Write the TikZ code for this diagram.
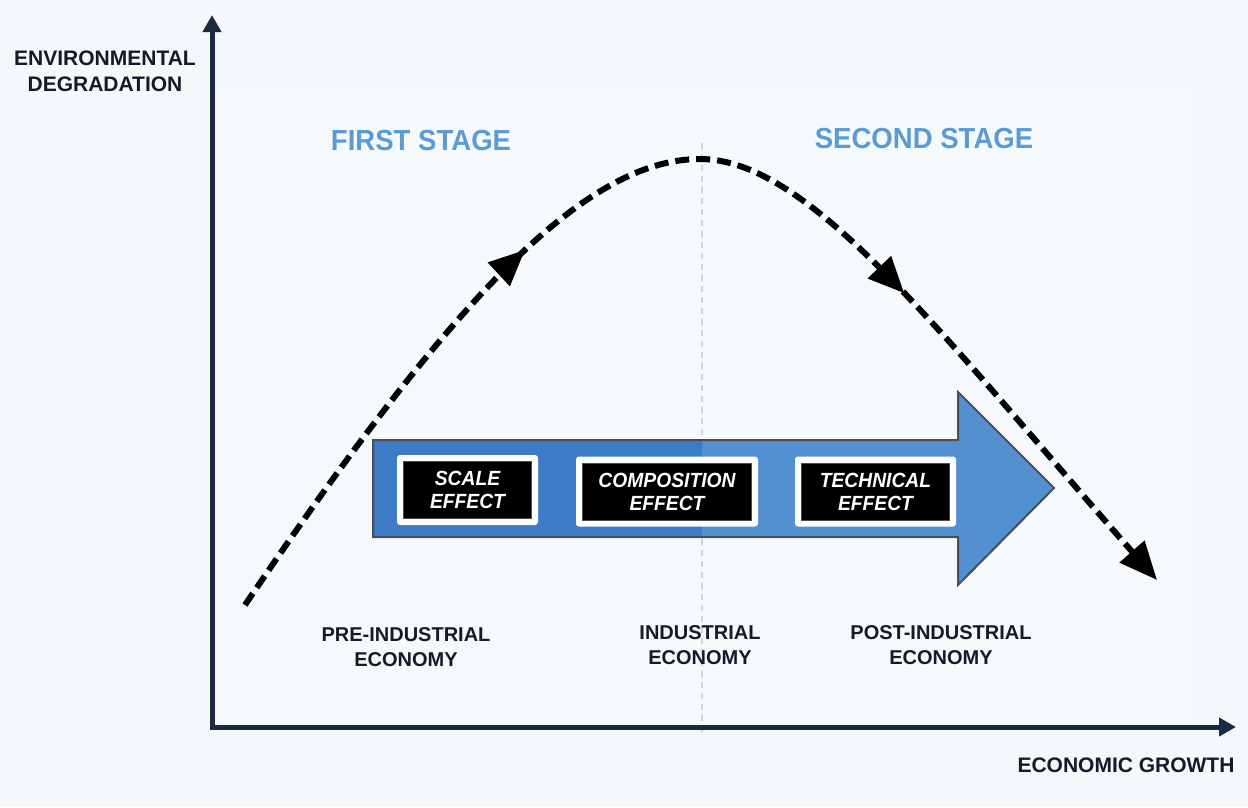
\documentclass[tikz,border=0pt]{standalone}
\usepackage{fontspec}
\setmainfont{Liberation Sans}
\newfontfamily\stagefont[FakeStretch=0.95]{Liberation Sans}
\newfontfamily\boxfont[FakeStretch=0.94]{Liberation Sans}
\usetikzlibrary{arrows.meta,decorations.markings}
\definecolor{bgc}{HTML}{F4F8FA}
\definecolor{plotbg}{HTML}{F6F9FB}
\definecolor{axisc}{HTML}{1B2A41}
\definecolor{labc}{HTML}{131B2B}
\definecolor{stagec}{HTML}{5B9BD5}
\definecolor{arrowL}{HTML}{3E7BC6}
\definecolor{arrowR}{HTML}{5390D1}
\definecolor{arrowE}{HTML}{4A4F57}
\definecolor{guide}{HTML}{CFD3D6}
\tikzset{
  axisline/.style={line width=5pt, draw=axisc, -{Triangle[length=17pt,width=18pt]}},
  axislab/.style={font=\bfseries\fontsize{21}{26}\selectfont, text=labc, align=center, inner sep=0pt},
  ecolab/.style={font=\bfseries\fontsize{20}{25}\selectfont, text=labc, align=center, inner sep=0pt},
  stagelab/.style={font=\stagefont\bfseries\fontsize{29}{32}\selectfont, text=stagec, inner sep=0pt},
  whitebox/.style={fill=white, rounded corners=3pt, inner sep=0pt},
  blackbox/.style={fill=black, draw=black!70, line width=0.6pt, inner sep=0pt, minimum height=57pt,
    font=\boxfont\bfseries\itshape\fontsize{20.5}{23}\selectfont, text=white, align=center},
  curveline/.style={line width=6pt, draw=black, dash pattern=on 14pt off 7pt,
    -{Triangle[length=38pt,width=32pt]}},
  midarrow/.style={decoration={markings,
    mark=at position 0.352 with {\arrow{Triangle[length=36pt,width=31pt]}},
    mark=at position 0.703 with {\arrow{Triangle[length=36pt,width=31pt]}}}, decorate}
}
\begin{document}
\begin{tikzpicture}[x=1pt,y=-1pt]
\useasboundingbox (0,0) rectangle (1248,807);
\fill[bgc] (0,0) rectangle (1248,807);
\fill[plotbg] (215,88) rectangle (1196,725);

% guide line
\coordinate (gtop) at (702,143);
\coordinate (gbot) at (702,734);
\draw[guide, line width=1.2pt, dash pattern=on 6pt off 5pt] (gtop) -- (gbot);

% axes
\coordinate (ytip) at (212,15);
\coordinate (xtip) at (1236,727);
\coordinate (ostart) at (212,729.5);
\coordinate (xstart) at (209.5,727);
\draw[axisline] (ostart) -- (ytip);
\draw[axisline] (xstart) -- (xtip);

% big arrow
\path[fill=arrowR] (373,440) -- (958,440) -- (958,392) -- (1054,488) -- (958,585) -- (958,537) -- (373,537) -- cycle;
\begin{scope}
\clip (373,380) rectangle (702,600);
\path[fill=arrowL] (373,440) -- (958,440) -- (958,392) -- (1054,488) -- (958,585) -- (958,537) -- (373,537) -- cycle;
\end{scope}
\draw[arrowE, line width=2pt, line join=miter] (373,440) -- (958,440) -- (958,392) -- (1054,488) -- (958,585) -- (958,537) -- (373,537) -- cycle;

% effect boxes
\node[whitebox, minimum width=141pt, minimum height=70pt] (w1) at (467.5,490) {};
\node[blackbox, minimum width=128pt] (b1) at (w1.center) {SCALE\\EFFECT};
\node[whitebox, minimum width=182pt, minimum height=70pt] (w2) at (667,491.5) {};
\node[blackbox, minimum width=169pt] (b2) at (w2.center) {COMPOSITION\\EFFECT};
\node[whitebox, minimum width=161pt, minimum height=70pt] (w3) at (875.5,491.5) {};
\node[blackbox, minimum width=148pt] (b3) at (w3.center) {TECHNICAL\\EFFECT};

% curve
\coordinate (cs) at (245,605);
\coordinate (cp) at (700,159);
\coordinate (ce) at (1157,580);
\draw[curveline, postaction={midarrow}] (cs) .. controls (447,306) and (583,159) .. (cp)
  .. controls (810,159) and (939,332) .. (ce);

% labels
\node[axislab] (ylab) at (105,71) {ENVIRONMENTAL\\DEGRADATION};
\node[axislab] (xlab) at (1126,765) {ECONOMIC GROWTH};
\node[stagelab] (s1) at (421,141) {FIRST STAGE};
\node[stagelab] (s2) at (924,139) {SECOND STAGE};
\node[ecolab] (e1) at (406,647) {PRE-INDUSTRIAL\\ECONOMY};
\node[ecolab] (e2) at (700,645) {INDUSTRIAL\\ECONOMY};
\node[ecolab] (e3) at (941,645) {POST-INDUSTRIAL\\ECONOMY};
\end{tikzpicture}
\end{document}
